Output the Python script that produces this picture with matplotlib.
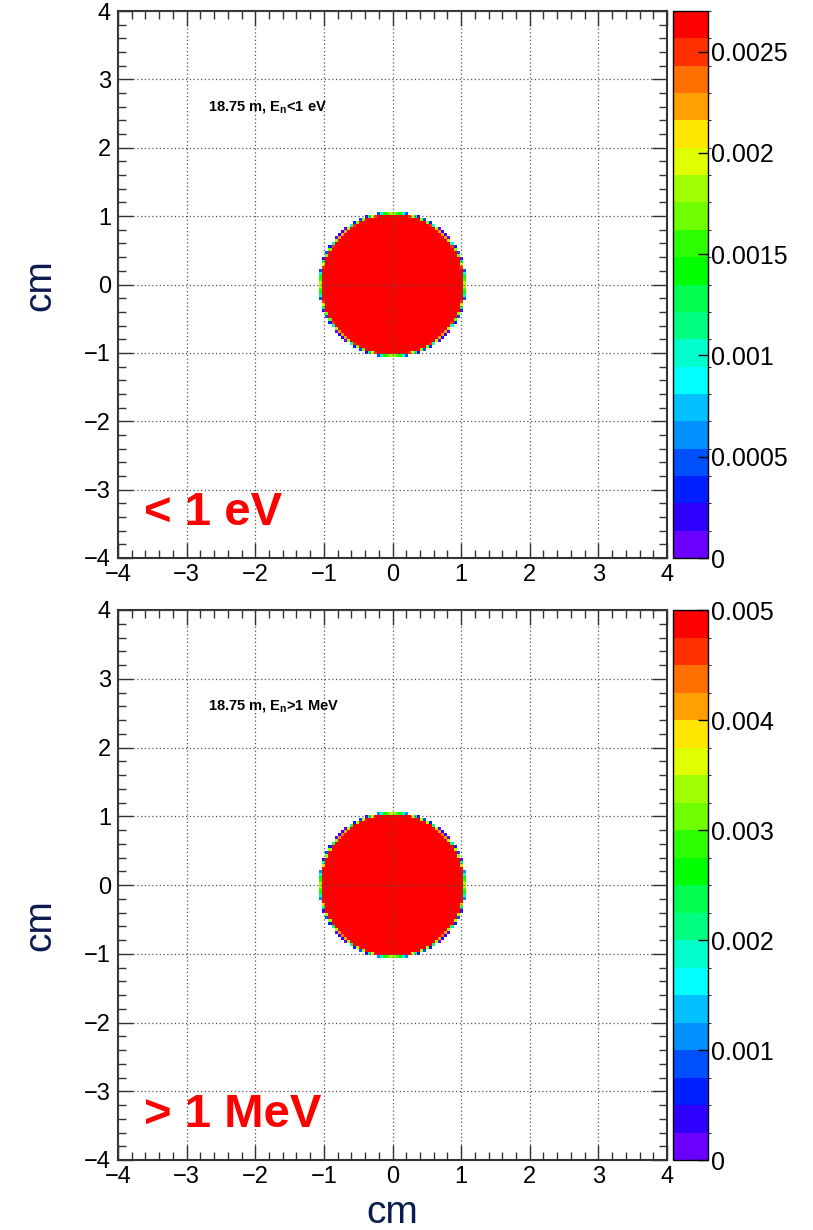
import numpy as np
import matplotlib
matplotlib.use("Agg")
import matplotlib.pyplot as plt
from matplotlib.colors import ListedColormap, BoundaryNorm
from matplotlib.ticker import MultipleLocator

plt.rcParams['font.family'] = ['Liberation Sans', 'DejaVu Sans']
plt.rcParams['mathtext.fontset'] = 'custom'
plt.rcParams['mathtext.rm'] = 'Liberation Sans'
plt.rcParams['mathtext.bf'] = 'Liberation Sans:bold'

# datos del haz (perfil en 18.75 m)
n_bins = 180
x_range = (-4.0, 4.0)
beam_radius = 1.05                  # cm
beam_density = [0.0027, 0.0052]     # valor en el interior del disco
z_max = [0.0027, 0.005]
z_ticks = [[0, 0.0005, 0.001, 0.0015, 0.002, 0.0025],
           [0, 0.001, 0.002, 0.003, 0.004, 0.005]]
z_ticklabels = [['0', '0.0005', '0.001', '0.0015', '0.002', '0.0025'],
                ['0', '0.001', '0.002', '0.003', '0.004', '0.005']]
notes = [r'18.75 m, $\mathbf{E_n}$<1 eV', r'18.75 m, $\mathbf{E_n}$>1 MeV']
big_labels = ['< 1 eV', '> 1 MeV']
axis_ticks = [-4, -3, -2, -1, 0, 1, 2, 3, 4]

# paleta tipo ROOT (20 niveles)
palette = ['#6a00ff', '#3000ff', '#0020ff', '#0050ff', '#0090ff', '#00c0ff',
           '#00ffff', '#00ffcc', '#00ff80', '#00ff50', '#00ff00', '#2bff00',
           '#70ff00', '#a0ff00', '#e0ff00', '#ffe600', '#ffa000', '#ff7000',
           '#ff3000', '#ff0000']
cmap = ListedColormap(palette)
cmap.set_over('#ff0000')

# fraccion de cada bin cubierta por el disco
edges = np.linspace(x_range[0], x_range[1], n_bins + 1)
w = edges[1] - edges[0]
sub = 6
off = (np.arange(sub) + 0.5) / sub * w
px = (edges[:-1, None] + off[None, :]).ravel()
X, Y = np.meshgrid(px, px)
inside = (X**2 + Y**2 <= beam_radius**2).astype(float)
cover = inside.reshape(n_bins, sub, n_bins, sub).mean(axis=(1, 3))

fig = plt.figure(figsize=(8.13, 12.3), dpi=100)

ax_pos = [[118/813, 1-558/1230, 549/813, 547/1230],
          [118/813, 1-1160/1230, 549/813, 550/1230]]
cb_pos = [[673/813, 1-558/1230, 35/813, 547/1230],
          [673/813, 1-1160/1230, 35/813, 550/1230]]

for i in range(2):
    ax = fig.add_axes(ax_pos[i])
    cax = fig.add_axes(cb_pos[i])

    z = cover * beam_density[i]
    z = np.ma.masked_where(z <= 0, z)
    levels = np.linspace(0, z_max[i], 21)
    norm = BoundaryNorm(levels, cmap.N, extend='neither', clip=False)
    mesh = ax.pcolormesh(edges, edges, z, cmap=cmap, norm=norm)

    ax.set_xlim(x_range)
    ax.set_ylim(x_range)
    ax.set_xticks(axis_ticks)
    ax.set_yticks(axis_ticks)
    ax.xaxis.set_minor_locator(MultipleLocator(0.2))
    ax.yaxis.set_minor_locator(MultipleLocator(0.2))
    ax.tick_params(which='both', direction='in', top=True, right=True,
                   color='#333333', labelsize=17)
    ax.tick_params(which='major', length=11, width=1)
    ax.tick_params(which='minor', length=5.5, width=1)
    ax.tick_params(axis='x', pad=4)
    ax.tick_params(axis='y', pad=5)
    for s in ax.spines.values():
        s.set_color('#333333')
        s.set_linewidth(1.5)
    ax.set_axisbelow(False)
    ax.grid(True, which='major', color='#555555', linestyle=(0, (1, 2)), linewidth=0.9)

    ax.text(-2.69, 2.55, notes[i], fontsize=10.5, fontweight='bold')
    ax.text(-3.62, -3.52, big_labels[i], fontsize=34, fontweight='bold', color='#ff0000')

    cb = fig.colorbar(mesh, cax=cax, ticks=z_ticks[i])
    cb.ax.set_yticklabels(z_ticklabels[i])
    cb.ax.set_ylim(0, z_max[i])
    cb.ax.tick_params(direction='in', length=7, width=1, labelsize=18, pad=2)
    cb.outline.set_linewidth(1)

    fig.text(40/813, 1 - (285 if i == 0 else 925)/1230, 'cm', rotation=90,
             ha='center', va='center', fontsize=28, color='#0b1a4f')

fig.text(392.5/813, 1-1213/1230, 'cm', ha='center', va='center', fontsize=28, color='#0b1a4f')

fig.savefig('out.png', dpi=100)
